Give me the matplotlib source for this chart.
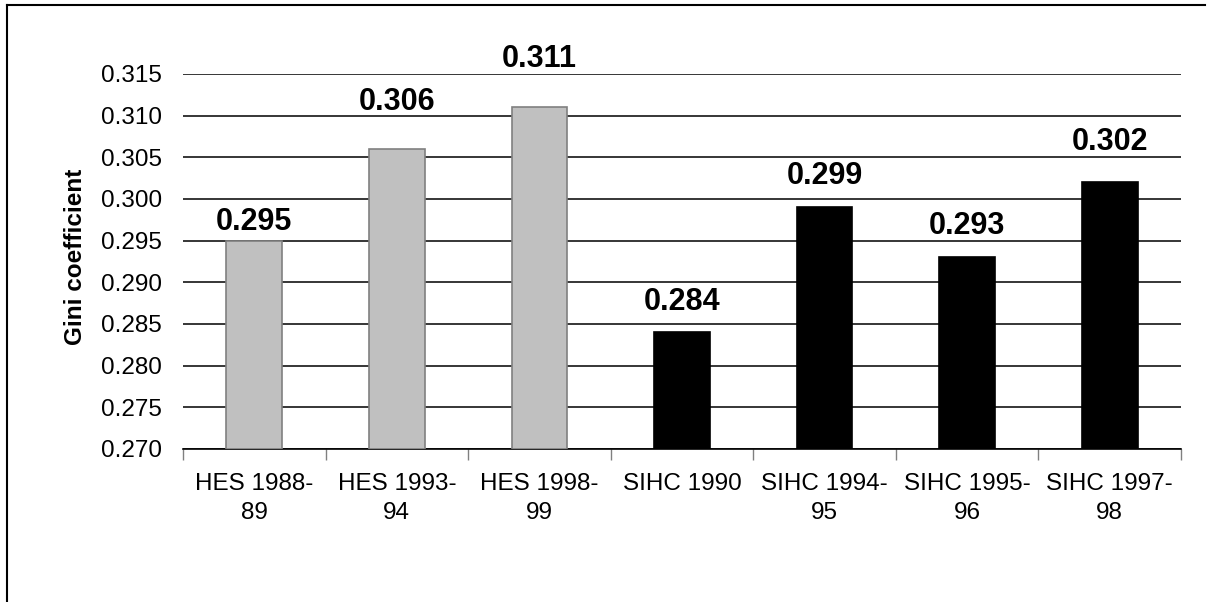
import matplotlib.pyplot as plt
from matplotlib.lines import Line2D

plt.rcParams['font.family'] = ['Liberation Sans', 'DejaVu Sans']

surveys = ['HES 1988-\n89', 'HES 1993-\n94', 'HES 1998-\n99', 'SIHC 1990',
           'SIHC 1994-\n95', 'SIHC 1995-\n96', 'SIHC 1997-\n98']
gini = [0.295, 0.306, 0.311, 0.284, 0.299, 0.293, 0.302]
fills = ['#C0C0C0', '#C0C0C0', '#C0C0C0', 'black', 'black', 'black', 'black']
edges = ['#808080', '#808080', '#808080', 'black', 'black', 'black', 'black']
# label gap above each bar (points), as placed in the original
label_gap = [8, 28, 29, 16, 16.5, 16.5, 23]

fig = plt.figure(figsize=(12.07, 6.02), dpi=100)
ax = fig.add_axes([0.1516, 0.2542, 0.8269, 0.6229])

x = range(len(surveys))
base = 0.270
ax.bar(x, [g - base for g in gini], bottom=base, width=0.39,
       color=fills, edgecolor=edges, linewidth=1.2, zorder=3)

for i, g in enumerate(gini):
    ax.annotate(f'{g:.3f}', (i, g), xytext=(0, label_gap[i]), textcoords='offset points',
                ha='center', va='baseline', fontsize=22, fontweight='bold')

ax.set_ylim(0.270, 0.315)
ax.set_xlim(-0.5, len(surveys) - 0.5)
yt = [0.270 + 0.005 * k for k in range(10)]
ax.set_yticks(yt)
ax.set_yticklabels([f'{v:.3f}' for v in yt])
ax.yaxis.grid(True, color='black', linewidth=1.1, zorder=0)
ax.tick_params(axis='y', length=0, labelsize=17.5, pad=15)

ax.set_xticks([i - 0.5 for i in range(len(surveys) + 1)])
ax.set_xticklabels([])
ax.set_xticks(list(x), minor=True)
ax.set_xticklabels(surveys, minor=True, fontsize=17.5, linespacing=1.45)
ax.tick_params(axis='x', which='major', length=8, color='#808080', width=1)
ax.tick_params(axis='x', which='minor', length=0, pad=17)

for s in ['left', 'top', 'right']:
    ax.spines[s].set_visible(False)
ax.spines['bottom'].set_color('black')
ax.spines['bottom'].set_linewidth(1.2)

ax.set_ylabel('Gini coefficient', fontsize=17.5, fontweight='bold')
ax.yaxis.set_label_coords(-0.096, 0.511)

# chart frame (only top and left visible)
fig.add_artist(Line2D([7 / 1207, 1205 / 1207], [1 - 5 / 602, 1 - 5 / 602],
                      color='black', linewidth=1.5, transform=fig.transFigure))
fig.add_artist(Line2D([7 / 1207, 7 / 1207], [0, 1 - 5 / 602],
                      color='black', linewidth=1.5, transform=fig.transFigure))

plt.savefig('out.png', dpi=100)
